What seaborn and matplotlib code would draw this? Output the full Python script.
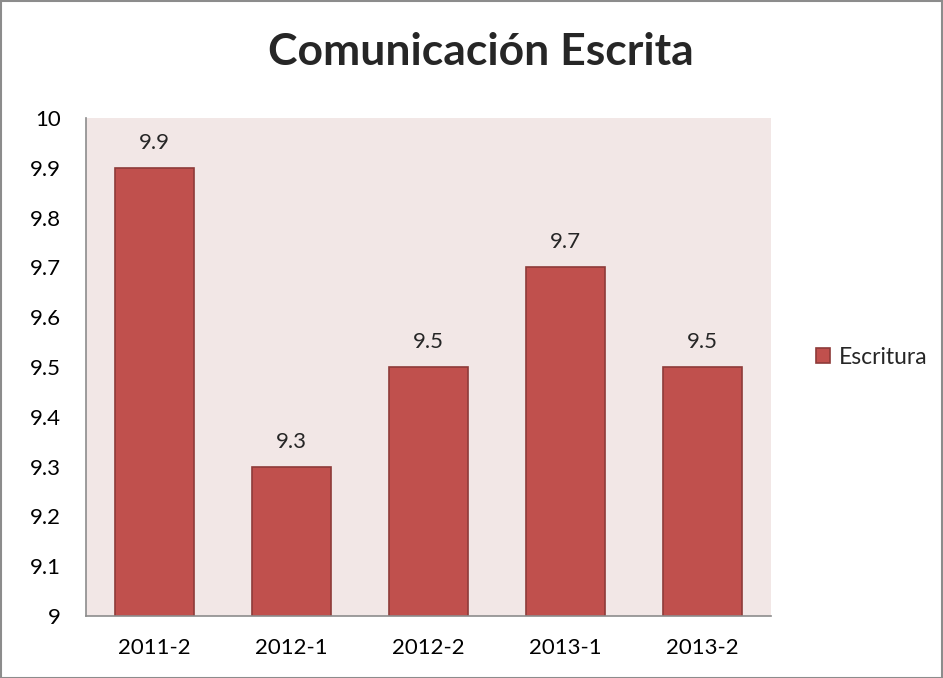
import numpy as np
import pandas as pd
import matplotlib
matplotlib.use('Agg')
import matplotlib.pyplot as plt
import seaborn as sns
from matplotlib.patches import Rectangle

periodos = ['2011-2', '2012-1', '2012-2', '2013-1', '2013-2']
notas = [9.9, 9.3, 9.5, 9.7, 9.5]
y_ticks = [9, 9.1, 9.2, 9.3, 9.4, 9.5, 9.6, 9.7, 9.8, 9.9, 10]
y_labels = ['9', '9.1', '9.2', '9.3', '9.4', '9.5', '9.6', '9.7', '9.8', '9.9', '10']

sns.set_style('white')
plt.rcParams['font.family'] = ['Lato', 'DejaVu Sans']

df = pd.DataFrame({'periodo': periodos, 'nota': notas})

fig = plt.figure(figsize=(9.43, 6.78), dpi=100)
ax = fig.add_axes([0.0912, 0.0914, 0.7264, 0.7346])
ax.set_facecolor('#F2E7E6')

sns.barplot(data=df, x='periodo', y='nota', color='#C0504D', width=0.58,
            edgecolor='#8E3B39', linewidth=1.2, label='Escritura', ax=ax,
            saturation=1)

ax.set_ylim(9, 10)
ax.set_xlim(-0.5, 4.5)
ax.set_yticks(y_ticks)
ax.set_yticklabels(y_labels)
ax.set_xlabel('')
ax.set_ylabel('')
ax.tick_params(axis='both', length=0, labelsize=16, colors='black')
ax.tick_params(axis='x', pad=16)
ax.tick_params(axis='y', pad=18)

for s in ['top', 'right']:
    ax.spines[s].set_visible(False)
for s in ['left', 'bottom']:
    ax.spines[s].set_color('#8C8C8C')
    ax.spines[s].set_linewidth(1.2)

for i, v in enumerate(notas):
    ax.text(i, v + 0.03, f'{v:.1f}', ha='center', va='bottom', fontsize=16)

ax.legend(loc='center left', bbox_to_anchor=(1.035, 0.52), frameon=False,
          fontsize=16.5, handlelength=0.65, handleheight=0.65, handletextpad=0.35)

fig.text(0.51, 0.923, 'Comunicación Escrita', ha='center', va='center',
         fontsize=32, fontweight='bold')

fig.patches.append(Rectangle((0.001, 0.0), 0.998, 0.998, transform=fig.transFigure,
                             fill=False, edgecolor='#8C8C8C', linewidth=1.5))

fig.savefig('out.png', dpi=100)
